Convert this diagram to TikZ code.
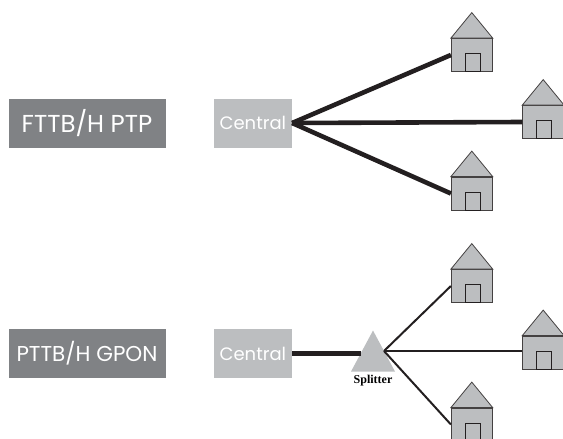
\documentclass[tikz,border=0pt]{standalone}
\usepackage{fontspec}
\setmainfont{Poppins}
\newfontfamily\splitfont{Liberation Serif}
\usetikzlibrary{shapes.geometric,positioning}
\definecolor{darkbox}{HTML}{808285}
\definecolor{lightbox}{HTML}{BCBEC0}
\definecolor{wire}{HTML}{231F20}
\tikzset{
  labelbox/.style={fill=darkbox,text=white,minimum width=157pt,minimum height=49pt,inner sep=0pt,font=\fontsize{24.5}{25}\selectfont},
  centralbox/.style={fill=lightbox,text=white,minimum width=78pt,minimum height=49pt,inner sep=0pt,font=\fontsize{18}{18}\selectfont},
  housebody/.style={draw=wire!85,fill=lightbox,line width=.8pt,minimum width=41pt,minimum height=33pt,inner sep=0pt},
  housedoor/.style={draw=wire,line width=.8pt,minimum width=15pt,minimum height=18pt,inner sep=0pt},
  splitter/.style={isosceles triangle,isosceles triangle stretches,shape border rotate=90,fill=lightbox,minimum width=44pt,minimum height=41pt,inner sep=0pt},
  fat/.style={draw=wire,line width=4.6pt},
  thin/.style={draw=wire,line width=2pt},
}
\newcommand{\house}[3]{
  \node[housebody] (#1) at (#2,#3) {};
  \draw[housebody] (#1.north west) -- ([yshift=25.5pt]#1.north) -- (#1.north east) -- cycle;
  \node[housedoor, anchor=south, xshift=1pt] (#1door) at (#1.south) {};
}
\begin{document}
\begin{tikzpicture}[x=1pt,y=-1pt]
  \clip (0,0) rectangle (563,439);

  % top half
  \node[labelbox] (ptp) at (87,123) {FTTB/H PTP};
  \node[centralbox, right=48pt of ptp] (C1) {Central};
  \house{A}{471.8}{55}
  \house{B}{543.2}{122}
  \house{E}{471.8}{193.5}
  \draw[fat] (C1.east) -- (A.west);
  \draw[fat] (C1.east) -- (B.west);
  \draw[fat] (C1.east) -- (E.west);

  % bottom half
  \node[labelbox, font=\fontsize{21.5}{22}\selectfont] (gpon) at (87,353.5) {PTTB/H GPON};
  \node[centralbox, right=48pt of gpon] (C2) {Central};
  \node[splitter, anchor=apex] (S) at (373,330) {};
  \node[inner sep=0pt, font=\splitfont\bfseries\fontsize{12}{12}\selectfont] (Slabel) at (373,380.5) {Splitter};
  \coordinate (Sin) at (361,353.5);
  \coordinate (hub) at (384,351);
  \house{F}{471.8}{286}
  \house{G}{543.2}{352.5}
  \house{H}{471.8}{424.5}
  \draw[fat] (C2.east) -- (Sin);
  \draw[thin] (hub) -- (F.west);
  \draw[thin] (hub) -- (G.west |- hub);
  \draw[thin] (hub) -- (H.west);
\end{tikzpicture}
\end{document}
